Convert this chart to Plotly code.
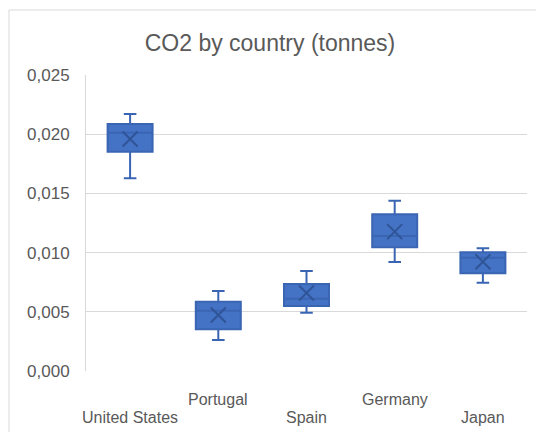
import plotly.graph_objects as go

# Yearly per-capita CO2 distribution summary by country (tonnes)
countries = ["United States", "Portugal", "Spain", "Germany", "Japan"]
lower_whisker = [0.01627, 0.00262, 0.00493, 0.00920, 0.00746]
q1_values = [0.01852, 0.00352, 0.00549, 0.01045, 0.00825]
median_values = [0.02013, 0.00509, 0.00611, 0.01140, 0.00957]
q3_values = [0.02086, 0.00585, 0.00735, 0.01323, 0.01003]
upper_whisker = [0.02171, 0.00676, 0.00845, 0.01438, 0.01036]
mean_values = [0.01960, 0.00473, 0.00659, 0.01177, 0.00923]
y_ticks = [0.0, 0.005, 0.010, 0.015, 0.020, 0.025]

FILL = "#4472C4"
EDGE = "#3A65B2"
MARK = "#2F5597"
TEXT = "#595959"
GRID = "#D9D9D9"
FONT = "Liberation Sans, Arial, sans-serif"

fig = go.Figure()

fig.add_trace(go.Box(
    x=countries,
    q1=q1_values,
    median=median_values,
    q3=q3_values,
    lowerfence=lower_whisker,
    upperfence=upper_whisker,
    fillcolor=FILL,
    line=dict(color=EDGE, width=2),
    width=0.51,
    whiskerwidth=0.28,
    boxpoints=False,
    showlegend=False,
    hoverinfo="skip",
))

# Mean drawn as an X inside each box
fig.add_trace(go.Scatter(
    x=countries,
    y=mean_values,
    mode="markers",
    marker=dict(symbol="x-thin-open", size=15, color=MARK,
                line=dict(color=MARK, width=2)),
    showlegend=False,
    hoverinfo="skip",
))

# Staggered category labels (alternating rows)
annotations = []
for i, name in enumerate(countries):
    annotations.append(dict(
        x=name, xref="x",
        y=-0.158 if i % 2 == 0 else -0.097, yref="paper",
        text=name, showarrow=False,
        xanchor="center", yanchor="middle",
        font=dict(family=FONT, size=16, color=TEXT),
    ))

fig.update_layout(
    width=536, height=432,
    margin=dict(l=86, r=9, t=75, b=61),
    paper_bgcolor="white",
    plot_bgcolor="white",
    separators=",.",
    title=dict(
        text="CO2 by country (tonnes)",
        x=270 / 536, xanchor="center",
        y=1 - 43 / 432, yanchor="middle",
        font=dict(family=FONT, size=23, color=TEXT),
    ),
    xaxis=dict(
        type="category",
        categoryorder="array", categoryarray=countries,
        range=[-0.5, 4.5],
        showticklabels=False,
        showgrid=False, zeroline=False, showline=False,
        fixedrange=True,
    ),
    yaxis=dict(
        range=[0, 0.025],
        tickvals=y_ticks,
        tickformat=".3f",
        showgrid=True, gridcolor=GRID, gridwidth=1,
        zeroline=False,
        showline=True, linecolor=GRID, linewidth=1,
        ticks="",
        ticklabelstandoff=12,
        tickfont=dict(family=FONT, size=17, color=TEXT),
    ),
    annotations=annotations,
    shapes=[dict(
        type="rect", xref="paper", yref="paper",
        x0=(9 - 86) / 441, x1=1.2,
        y0=-0.4, y1=(371 - 10) / 296,
        line=dict(color=GRID, width=1),
        fillcolor="rgba(0,0,0,0)",
        layer="below",
    )],
)

fig.write_html("out.html")
